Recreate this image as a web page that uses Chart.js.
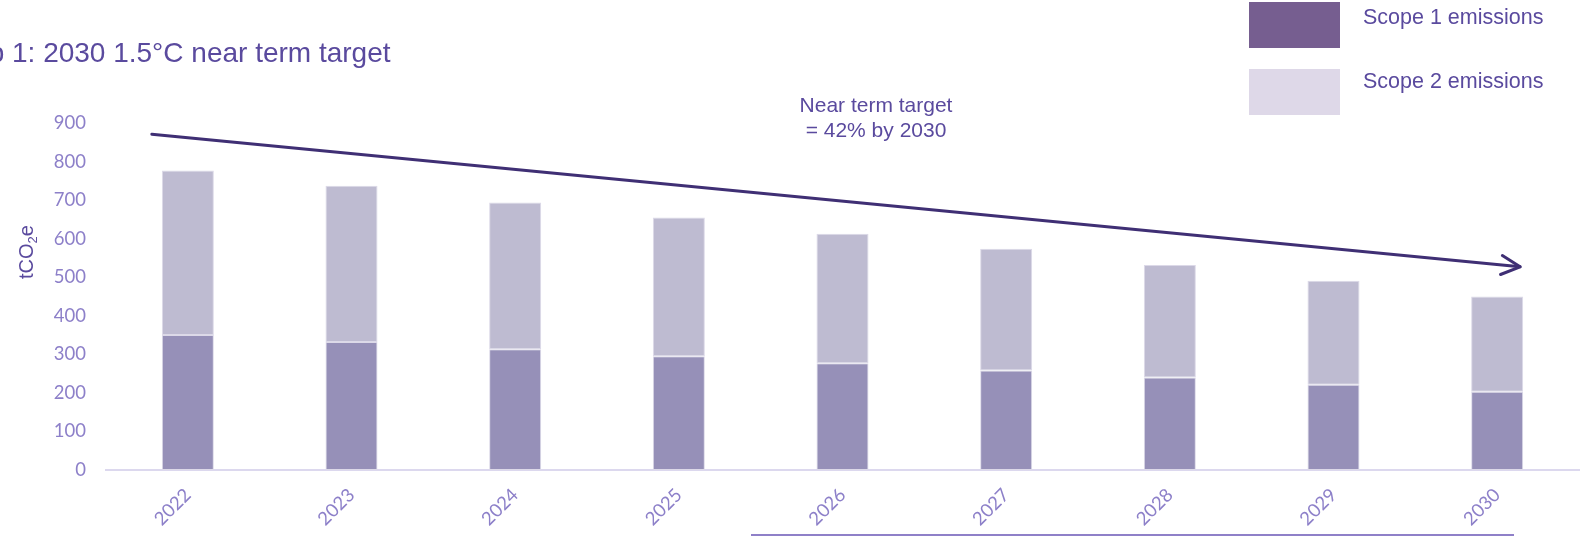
<!DOCTYPE html>
<html>
<head>
<meta charset="utf-8">
<script src="https://cdn.jsdelivr.net/npm/chart.js@4/dist/chart.umd.min.js"></script>
<style>
  html, body { margin: 0; padding: 0; background: #ffffff; }
  #wrap { width: 1591px; height: 537px; position: relative; overflow: hidden; }
</style>
</head>
<body>
<div id="wrap"><canvas id="c" width="1591" height="537"></canvas></div>
<script>
// Emissions pathway, tCO2e per year
const years = ['2022', '2023', '2024', '2025', '2026', '2027', '2028', '2029', '2030'];
const scope1 = [350, 332, 313, 295, 277, 258, 240, 221, 203];
const scope2 = [427, 405, 381, 360, 336, 316, 292, 270, 247];
const seriesNames = ['Scope 1 emissions', 'Scope 2 emissions'];

// Target arrow: [category position, tCO2e] at its start and at its tip
const arrowStart = [-0.22, 871];
const arrowEnd = [8.14, 527];

const titleText = 'Step 1: 2030 1.5°C near term target';
const targetNote = ['Near term target', '= 42% by 2030'];

const textPurple = '#5a4a9e';
const tickPurple = '#8d80c9';
const barColors = ['#9690b8', '#bebbd1'];
const keyColors = ['#765e90', '#ded8e8'];

const overlay = {
  id: 'overlay',
  afterDraw(chart) {
    const ctx = chart.ctx;
    const xs = chart.scales.x, ys = chart.scales.y;
    ctx.save();

    // heading, running off the left edge
    ctx.fillStyle = textPurple;
    ctx.font = '28px "Liberation Sans", Arial, sans-serif';
    ctx.textBaseline = 'alphabetic';
    ctx.textAlign = 'left';
    const lead = ctx.measureText('Step ').width;
    ctx.fillText(titleText, 12 - lead, 62);

    // key
    ctx.font = '21.5px "Liberation Sans", Arial, sans-serif';
    const keyY = [2, 69];
    const keyBase = [24, 88];
    seriesNames.forEach((name, i) => {
      ctx.fillStyle = keyColors[i];
      ctx.fillRect(1249, keyY[i], 91, 46);
      ctx.fillStyle = textPurple;
      ctx.fillText(name, 1363, keyBase[i]);
    });

    // target note
    ctx.textAlign = 'center';
    ctx.font = '21px "Liberation Sans", Arial, sans-serif';
    ctx.fillText(targetNote[0], 876, 112);
    ctx.fillText(targetNote[1], 876, 137);

    // y-axis unit with subscript
    ctx.save();
    ctx.translate(33, 279);
    ctx.rotate(-Math.PI / 2);
    ctx.textAlign = 'left';
    ctx.font = '20px "Liberation Sans", Arial, sans-serif';
    ctx.fillText('tCO', 0, 0);
    let w = ctx.measureText('tCO').width;
    ctx.font = '13px "Liberation Sans", Arial, sans-serif';
    ctx.fillText('2', w, 4);
    w += ctx.measureText('2').width;
    ctx.font = '20px "Liberation Sans", Arial, sans-serif';
    ctx.fillText('e', w, 0);
    ctx.restore();

    // target arrow
    const x0 = xs.getPixelForValue(arrowStart[0]), y0 = ys.getPixelForValue(arrowStart[1]);
    const x1 = xs.getPixelForValue(arrowEnd[0]), y1 = ys.getPixelForValue(arrowEnd[1]);
    ctx.strokeStyle = '#3f2f74';
    ctx.lineWidth = 3;
    ctx.lineCap = 'round';
    ctx.lineJoin = 'round';
    ctx.beginPath();
    ctx.moveTo(x0, y0);
    ctx.lineTo(x1, y1);
    ctx.stroke();
    const ang = Math.atan2(y1 - y0, x1 - x0);
    const head = 21, spread = 27 * Math.PI / 180;
    ctx.beginPath();
    ctx.moveTo(x1 - head * Math.cos(ang - spread), y1 - head * Math.sin(ang - spread));
    ctx.lineTo(x1, y1);
    ctx.lineTo(x1 - head * Math.cos(ang + spread), y1 - head * Math.sin(ang + spread));
    ctx.stroke();

    // rule along the bottom edge
    ctx.strokeStyle = '#8f80c8';
    ctx.lineWidth = 2;
    ctx.lineCap = 'butt';
    ctx.beginPath();
    ctx.moveTo(751, 535);
    ctx.lineTo(1514, 535);
    ctx.stroke();

    ctx.restore();
  }
};

new Chart(document.getElementById('c'), {
  type: 'bar',
  data: {
    labels: years,
    datasets: [
      { label: seriesNames[0], data: scope1, backgroundColor: barColors[0],
        borderColor: '#dcd9e8', borderWidth: 1, borderSkipped: false },
      { label: seriesNames[1], data: scope2, backgroundColor: barColors[1],
        borderColor: '#dcd9e8', borderWidth: 1, borderSkipped: false }
    ]
  },
  options: {
    responsive: false,
    devicePixelRatio: 1,
    animation: false,
    events: [],
    layout: { padding: { top: 123, right: 12, left: 0, bottom: 0 } },
    datasets: { bar: { categoryPercentage: 1, barPercentage: 0.318 } },
    plugins: { legend: { display: false }, tooltip: { enabled: false }, title: { display: false } },
    scales: {
      x: {
        stacked: true,
        grid: { display: false, drawTicks: false },
        border: { display: true, color: '#dcd8ee', width: 2 },
        ticks: {
          color: tickPurple,
          font: { family: 'Lato', size: 18.5 },
          minRotation: 45, maxRotation: 45,
          padding: 14
        },
        afterFit(s) { s.height = 67; }
      },
      y: {
        stacked: true,
        min: 0, max: 900,
        grid: { display: false, drawTicks: false },
        border: { display: false },
        ticks: {
          stepSize: 100,
          color: tickPurple,
          font: { family: 'Lato', size: 18.5 },
          padding: 20
        },
        afterFit(s) { s.width = 106; }
      }
    }
  },
  plugins: [overlay]
});
</script>
</body>
</html>
